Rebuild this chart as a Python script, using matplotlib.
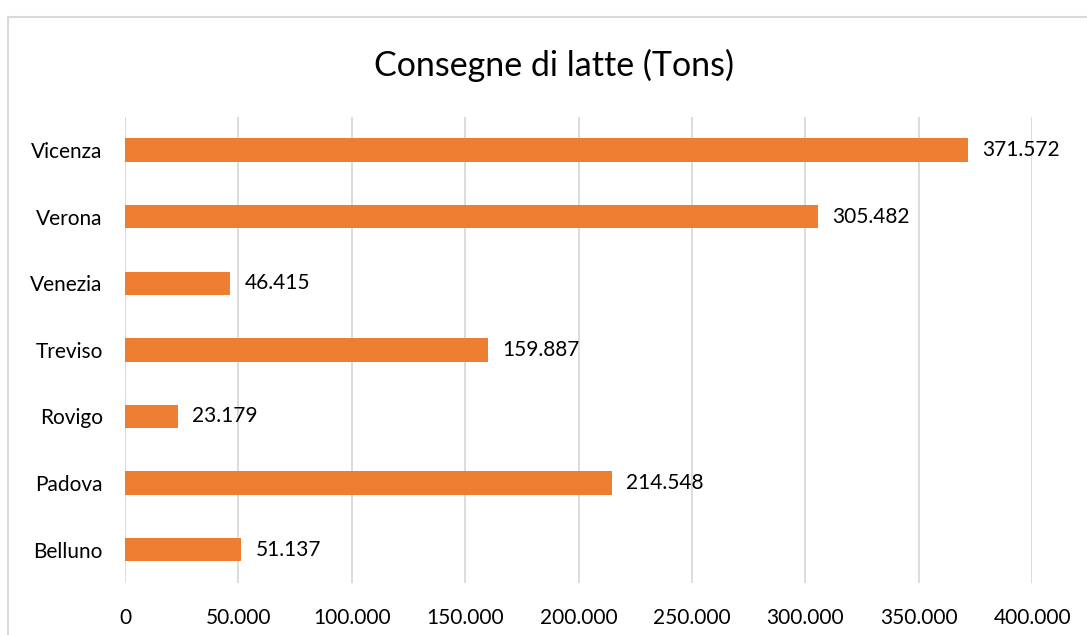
import matplotlib.pyplot as plt
from matplotlib.patches import Rectangle

plt.rcParams['font.family'] = ['Lato', 'DejaVu Sans']

provinces = ["Belluno", "Padova", "Rovigo", "Treviso", "Venezia", "Verona", "Vicenza"]
deliveries = [51137, 214548, 23179, 159887, 46415, 305482, 371572]
x_ticks = [0, 50000, 100000, 150000, 200000, 250000, 300000, 350000, 400000]


def fmt_it(v):
    return f"{v:,.0f}".replace(",", ".")


fig = plt.figure(figsize=(10.87, 6.35), dpi=100)
ax = fig.add_axes([0.115, 0.082, 0.8345, 0.734])

# light frame around the chart area
fig.patches.append(Rectangle((8 / 1087, -0.05), 1.1, 1 - 17 / 635 + 0.05,
                             transform=fig.transFigure, fill=False,
                             edgecolor="#d9d9d9", linewidth=1.5))

y = range(len(provinces))
ax.barh(y, deliveries, height=0.35, color="#ED7D31", zorder=3)
for yi, v in zip(y, deliveries):
    ax.text(v + 6500, yi, fmt_it(v), va="center", ha="left", fontsize=15, color="#000000")

ax.set_xlim(0, 400000)
ax.set_ylim(-0.5, len(provinces) - 0.5)
ax.set_xticks(x_ticks)
ax.set_xticklabels([fmt_it(t) for t in x_ticks])
ax.set_yticks(list(y))
ax.set_yticklabels(provinces)
ax.tick_params(axis="both", length=0, labelsize=15, colors="#000000")
ax.tick_params(axis="x", pad=18)
ax.tick_params(axis="y", pad=16)
ax.grid(axis="x", color="#d9d9d9", linewidth=1.3, zorder=0)
for s in ax.spines.values():
    s.set_visible(False)

fig.text(0.51, 1 - 65 / 635, "Consegne di latte (Tons)", ha="center", va="center", fontsize=24.5)

fig.savefig("out.png", dpi=100)
